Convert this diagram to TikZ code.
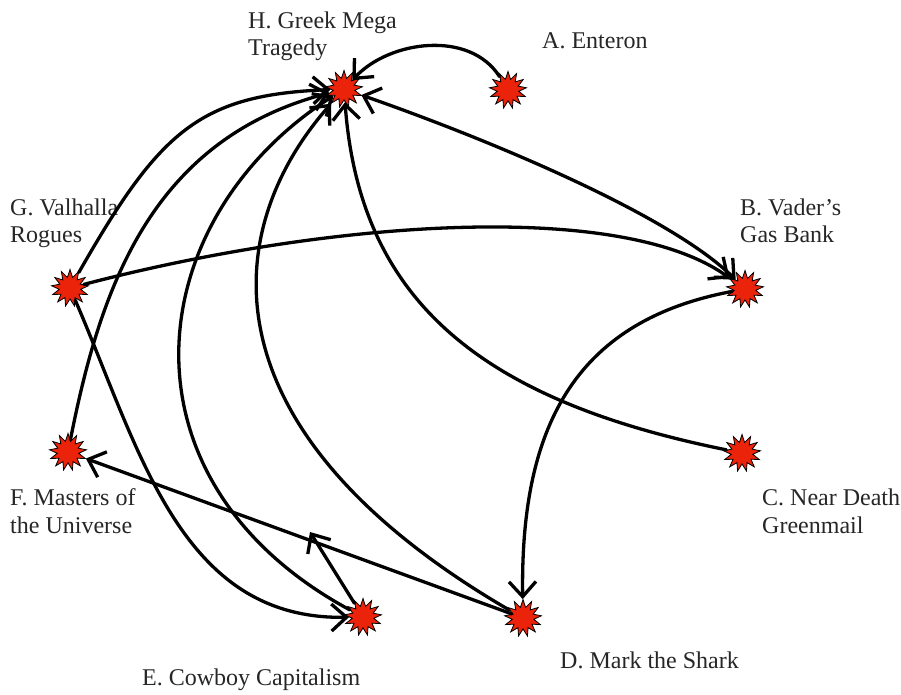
\documentclass[tikz,border=0pt]{standalone}
\usepackage{fontspec}
\setmainfont{Liberation Serif}
\usetikzlibrary{shapes.geometric,arrows.meta}
\definecolor{burstred}{RGB}{235,35,10}
\begin{document}
\begin{tikzpicture}[x=1pt,y=-1pt,
  burst/.style={star, star points=13, star point ratio=1.7, minimum size=37pt, inner sep=0pt, fill=burstred, draw=black, line width=0.8pt},
  link/.style={line width=3.3pt, line cap=round, -{Straight Barb[length=15pt,width=27pt]}},
  dlink/.style={line width=3.3pt, line cap=round, {Straight Barb[length=15pt,width=27pt]}-{Straight Barb[length=15pt,width=27pt]}},
  lbl/.style={anchor=base west, inner sep=0pt, font=\fontsize{24}{27}\selectfont, text=black!85}]
\useasboundingbox (0,0) rectangle (901,694);

% nodes
\node[burst] (H) at (344,89) {};
\node[burst] (A) at (508,90) {};
\node[burst] (B) at (745,289) {};
\node[burst] (C) at (742,453) {};
\node[burst] (D) at (523,618) {};
\node[burst] (E) at (363,617) {};
\node[burst] (F) at (68,452) {};
\node[burst] (G) at (70,288) {};

% labels
\node[lbl] (lH1) at (248,28) {H. Greek Mega};
\node[lbl] (lH2) at (248,55) {Tragedy};
\node[lbl] (lA) at (542,48) {A. Enteron};
\node[lbl] (lG1) at (10,215) {G. Valhalla};
\node[lbl] (lG2) at (10,242) {Rogues};
\node[lbl] (lB1) at (740,215) {B. Vader’s};
\node[lbl] (lB2) at (740,242) {Gas Bank};
\node[lbl] (lC1) at (762,505) {C. Near Death};
\node[lbl] (lC2) at (762,533) {Greenmail};
\node[lbl] (lF1) at (10,505) {F. Masters of};
\node[lbl] (lF2) at (10,533) {the Universe};
\node[lbl] (lD) at (560,668) {D. Mark the Shark};
\node[lbl] (lE) at (142,685) {E. Cowboy Capitalism};

\coordinate (eTip) at (310,532);

% connectors
\draw[link] (A) .. controls (470,30) and (390,40) .. (H);
\draw[dlink] (H) .. controls (490,140) and (670,215) .. (B);
\draw[link] (G) .. controls (330,220) and (620,200) .. (B);
\draw[link] (G) .. controls (160,130) and (200,95) .. (H);
\draw[link] (F) .. controls (100,290) and (150,140) .. (H);
\draw[link] (E) .. controls (110,480) and (140,220) .. (H);
\draw[link] (D) .. controls (200,430) and (220,230) .. (H);
\draw[link] (C) .. controls (480,400) and (360,300) .. (H);
\draw[link] (B) .. controls (580,320) and (520,420) .. (D);
\draw[link] (G) .. controls (140,450) and (180,620) .. (E);
\draw[link] (D) -- (F);
\draw[link] (E) -- (eTip);
\end{tikzpicture}
\end{document}
